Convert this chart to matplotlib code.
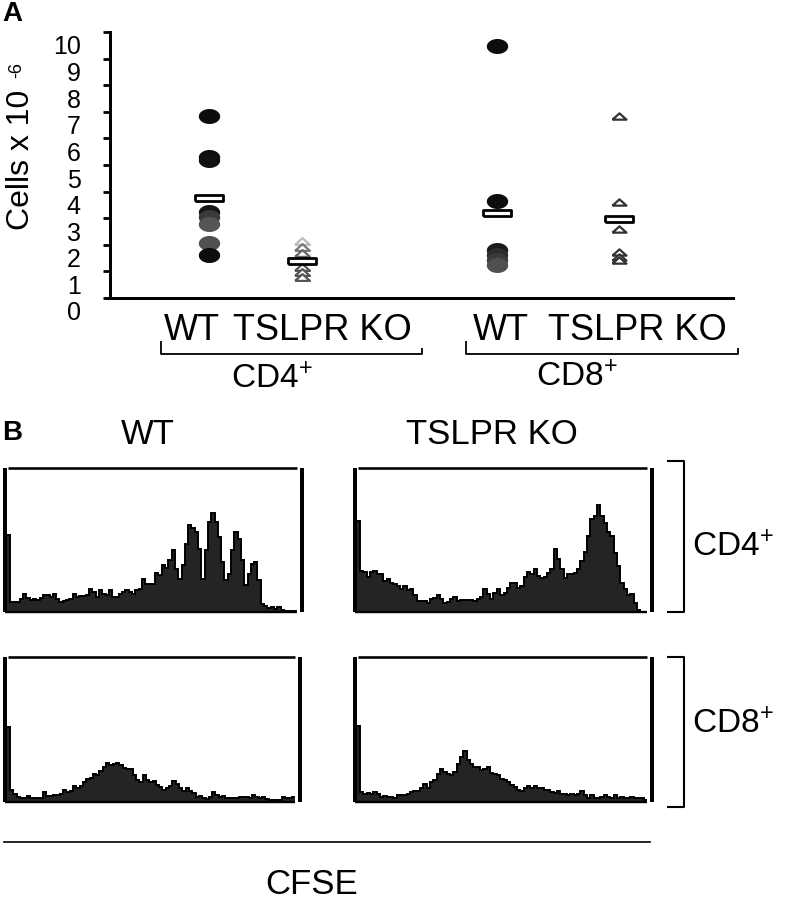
import numpy as np
import matplotlib
matplotlib.use('Agg')
import matplotlib.pyplot as plt
from matplotlib.transforms import ScaledTranslation

plt.rcParams['font.family'] = ['Liberation Sans', 'DejaVu Sans']
plt.rcParams['mathtext.fontset'] = 'custom'
plt.rcParams['mathtext.rm'] = 'Liberation Sans'
plt.rcParams['mathtext.it'] = 'Liberation Sans'
plt.rcParams['mathtext.bf'] = 'Liberation Sans:bold'

# ---------------- data: panel A (cells x 10^6) ----------------
group_labels = ['WT', 'TSLPR KO', 'WT', 'TSLPR KO']
subset_labels = ['CD4$^{+}$', 'CD8$^{+}$']
cd4_wt = [6.85, 5.3, 5.2, 3.25, 3.05, 2.8, 2.05, 1.6]
cd4_ko = [2.15, 1.93, 1.68, 1.18, 0.99, 0.80]
cd8_wt = [9.48, 3.65, 1.8, 1.62, 1.43, 1.24]
cd8_ko = [6.85, 3.6, 2.6, 1.72, 1.55, 1.43]
group_means = [3.76, 1.40, 3.20, 2.97]
y_tick_values = list(range(0, 11))
y_tick_labels = [str(v) for v in y_tick_values]

# ---------------- data: panel B (CFSE histograms, counts) ----------------
hist_wt_cd4 = [77, 10, 10, 10, 13, 18, 14, 12, 13, 12, 14, 17, 17, 15, 18, 13, 10, 11, 12, 13,
               18, 15, 16, 16, 17, 23, 20, 15, 22, 18, 17, 22, 15, 15, 18, 20, 22, 20, 18, 22,
               23, 33, 28, 28, 28, 39, 37, 47, 44, 52, 62, 43, 33, 47, 68, 87, 84, 80, 63, 33,
               62, 90, 99, 90, 75, 50, 32, 38, 62, 80, 73, 52, 27, 38, 48, 50, 32, 8, 6, 4,
               5, 3, 5, 2, 1, 1, 1, 1]
hist_ko_cd4 = [91, 41, 40, 35, 40, 41, 38, 38, 31, 33, 29, 28, 26, 23, 26, 22, 23, 17, 11, 11,
               11, 9, 13, 14, 17, 13, 9, 10, 13, 15, 11, 12, 12, 12, 12, 11, 13, 15, 23, 18,
               13, 19, 23, 17, 19, 24, 29, 29, 24, 26, 35, 40, 38, 43, 36, 34, 35, 39, 43, 63,
               53, 43, 34, 38, 38, 39, 43, 51, 60, 76, 93, 96, 107, 96, 89, 80, 76, 59, 46, 29,
               23, 17, 18, 9, 2, 0.5, 0.5]
hist_wt_cd8 = [75, 12, 8, 5, 4, 4, 6, 4, 4, 4, 4, 10, 6, 6, 7, 7, 8, 12, 10, 11,
               16, 14, 16, 20, 23, 24, 28, 27, 31, 35, 39, 37, 38, 39, 37, 34, 33, 33, 27, 22,
               20, 27, 22, 20, 21, 17, 15, 12, 14, 16, 21, 18, 14, 11, 14, 11, 9, 5, 6, 4,
               3, 5, 10, 7, 5, 6, 4, 4, 4, 4, 5, 5, 5, 4, 7, 5, 4, 5, 3, 2,
               2, 2, 2, 5, 4, 4, 5]
hist_ko_cd8 = [76, 10, 8, 9, 8, 10, 8, 5, 6, 5, 5, 4, 7, 7, 7, 8, 10, 11, 11, 14,
               18, 14, 20, 22, 28, 33, 30, 28, 27, 30, 38, 45, 51, 42, 38, 35, 35, 32, 33, 35,
               29, 28, 27, 23, 22, 20, 17, 15, 12, 11, 14, 16, 14, 16, 14, 14, 12, 12, 10, 9,
               11, 8, 8, 7, 8, 7, 8, 11, 7, 4, 7, 4, 4, 5, 7, 5, 4, 7, 4, 5,
               4, 4, 5, 4, 4, 4, 2]
col_headers = ['WT', 'TSLPR KO']
row_labels = ['CD4$^{+}$', 'CD8$^{+}$']
x_axis_title = 'CFSE'

# ---------------- figure ----------------
W, H = 791, 899
fig = plt.figure(figsize=(W / 100, H / 100), dpi=100)


def rect(l, t, r, b):
    return [l / W, 1 - b / H, (r - l) / W, (b - t) / H]


PX = 0.72  # points per pixel at 100 dpi

# marker shapes
th = np.linspace(0, 2 * np.pi, 48)
ellipse = list(zip(np.cos(th), 0.68 * np.sin(th)))
tri = [(-1, -0.45), (1, -0.45), (0, 0.45), (-1, -0.45)]
bar = [(-1, -0.2), (1, -0.2), (1, 0.2), (-1, 0.2), (-1, -0.2)]

# ---------------- panel A ----------------
ax = fig.add_axes(rect(110, 32, 733, 298))
ax.set_xlim(0, 6.3)
ax.set_ylim(0, 10)
xpos = [1.0, 1.94, 3.91, 5.15]

wt_cd4_cols = ['#0d0d0d', '#0d0d0d', '#111111', '#151515', '#3a3a3a', '#555555', '#505050', '#0d0d0d']
wt_cd8_cols = ['#0d0d0d', '#0d0d0d', '#1a1a1a', '#2e2e2e', '#3a3a3a', '#505050']
for v, c in zip(cd4_wt, wt_cd4_cols):
    ax.plot([xpos[0]], [v], marker=ellipse, ms=20 * PX, mfc=c, mec=c, ls='none', zorder=3)
for v, c in zip(cd8_wt, wt_cd8_cols):
    ax.plot([xpos[2]], [v], marker=ellipse, ms=20 * PX, mfc=c, mec=c, ls='none', zorder=3)

ko_cd4_cols = ['#bbbbbb', '#777777', '#666666', '#555555', '#555555', '#555555']
for v, c in zip(cd4_ko, ko_cd4_cols):
    ax.plot([xpos[1]], [v], marker=tri, ms=15 * PX, mfc='white', mec=c, mew=1.6, ls='none', zorder=3)
for v in cd8_ko:
    ax.plot([xpos[3]], [v], marker=tri, ms=14 * PX, mfc='white', mec='#333333', mew=1.6, ls='none', zorder=3)

for xp, m in zip(xpos, group_means):
    ax.plot([xp], [m], marker=bar, ms=28 * PX, mfc='white', mec='black', mew=2.0, ls='none', zorder=4)

for s in ['top', 'right']:
    ax.spines[s].set_visible(False)
ax.spines['left'].set_linewidth(3 * PX)
ax.spines['bottom'].set_linewidth(3 * PX)
ax.spines['bottom'].set_bounds(-0.03, 6.3)
ax.set_xticks([])
ax.set_yticks(y_tick_values)
ax.set_yticklabels(y_tick_labels)
ax.tick_params(axis='y', direction='out', length=5, width=2, labelsize=18, pad=16)
off = ScaledTranslation(0, -0.13, fig.dpi_scale_trans)
for lab in ax.get_yticklabels():
    lab.set_transform(lab.get_transform() + off)

# ---------------- panel B histograms ----------------
boxes = [
    (hist_wt_cd4, (5, 468, 302, 612)),
    (hist_ko_cd4, (355, 468, 652, 612)),
    (hist_wt_cd8, (5, 657, 300, 802)),
    (hist_ko_cd8, (355, 657, 652, 802)),
]
for vals, (l, t, r, b) in boxes:
    hx = fig.add_axes(rect(l, t, r, b))
    n = len(vals)
    edges = np.arange(n + 1)
    hx.stairs(vals, edges, fill=True, facecolor='#242424', edgecolor='#242424', lw=0, baseline=0)
    hx.stairs(vals, edges, fill=False, color='black', lw=1.4, baseline=None)
    hx.set_xlim(-0.5, n + 1.5)
    hx.set_ylim(0, b - t)
    hx.axis('off')
    tr = hx.transAxes
    hx.plot([0.0, 0.0], [0, 1], color='black', lw=4 * PX, transform=tr, clip_on=False, solid_capstyle='butt')
    hx.plot([0.01, 0.982], [1, 1], color='black', lw=2.6 * PX, transform=tr, clip_on=False, solid_capstyle='butt')
    hx.plot([1.0, 1.0], [0, 1], color='black', lw=4 * PX, transform=tr, clip_on=False, solid_capstyle='butt')
    hx.plot([-0.5, n], [0, 0], color='black', lw=2.4 * PX, clip_on=False, solid_capstyle='butt')

# ---------------- overlay for text / brackets ----------------
ov = fig.add_axes([0, 0, 1, 1], zorder=10)
ov.set_xlim(0, W)
ov.set_ylim(H, 0)
ov.axis('off')
ov.patch.set_alpha(0)

ov.text(12, 14, 'A', fontsize=20, fontweight='bold', ha='center', va='center')
ov.text(12, 433, 'B', fontsize=20, fontweight='bold', ha='center', va='center')

ov.text(21, 160, 'Cells x 10', fontsize=23, rotation=90, ha='center', va='center')
ov.text(17, 70, '-6', fontsize=13, rotation=90, ha='center', va='center')

# category labels
cat_x = [192, 322, 501, 637]
for cx, lab in zip(cat_x, group_labels):
    ov.text(cx, 331, lab, fontsize=26, ha='center', va='center')

# brackets under categories
for (x0, x1) in [(161, 422), (466, 738)]:
    ov.plot([x0, x0, x1, x1], [341, 354, 354, 348], color='black', lw=1.3, solid_capstyle='butt')
ov.text(272, 380, subset_labels[0], fontsize=24, ha='center', va='center')
ov.text(577, 378, subset_labels[1], fontsize=24, ha='center', va='center')

# panel B headers
ov.text(148, 435, col_headers[0], fontsize=25, ha='center', va='center')
ov.text(492, 435, col_headers[1], fontsize=25, ha='center', va='center')

# right brackets
for (y0, y1, ym), lab in zip([(461, 612, 548), (657, 807, 725)], row_labels):
    ov.plot([667, 684, 684, 667], [y0, y0, y1, y1], color='black', lw=1.5, solid_capstyle='butt')
    ov.text(692, ym, lab, fontsize=24, ha='left', va='center')

# CFSE axis line
ov.plot([4, 650], [842, 842], color='black', lw=1.2)
ov.text(312, 884, x_axis_title, fontsize=25, ha='center', va='center')

fig.savefig('out.png', dpi=100)
